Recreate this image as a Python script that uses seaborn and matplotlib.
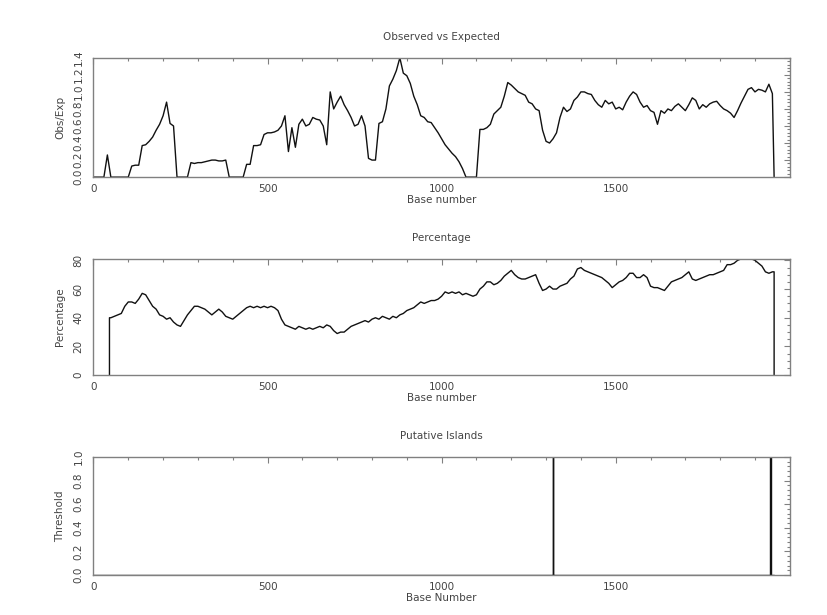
import numpy as np
import pandas as pd
import matplotlib
matplotlib.use("Agg")
import matplotlib.pyplot as plt
import seaborn as sns
from matplotlib.ticker import MultipleLocator, FixedLocator

sns.set_style("white")
plt.rcParams['font.family'] = ['DejaVu Sans']
plt.rcParams['font.size'] = 7.5

TEXT = '#444444'
FRAME = '#808080'

# ---- Observed vs Expected (window values every 10 bases, 0-1950) ----
oe_base = list(range(0, 1960, 10)) + [1955]
oe_value = [
    0, 0, 0, 0, 0.26, 0, 0, 0, 0, 0,
    0, 0.13, 0.14, 0.14, 0.37, 0.38, 0.42, 0.47, 0.55, 0.62,
    0.72, 0.88, 0.63, 0.6, 0, 0, 0, 0, 0.17, 0.16,
    0.17, 0.17, 0.18, 0.19, 0.2, 0.2, 0.19, 0.19, 0.2, 0,
    0, 0, 0, 0, 0.15, 0.15, 0.37, 0.37, 0.38, 0.5,
    0.52, 0.52, 0.53, 0.55, 0.6, 0.72, 0.3, 0.58, 0.35, 0.62,
    0.68, 0.6, 0.62, 0.7, 0.68, 0.67, 0.6, 0.38, 1.0, 0.8,
    0.88, 0.95, 0.85, 0.78, 0.7, 0.6, 0.62, 0.72, 0.6, 0.22,
    0.2, 0.2, 0.63, 0.65, 0.8, 1.07, 1.15, 1.25, 1.4, 1.22,
    1.19, 1.1, 0.95, 0.85, 0.72, 0.7, 0.65, 0.64, 0.58, 0.52,
    0.45, 0.38, 0.33, 0.28, 0.24, 0.18, 0.1, 0, 0, 0,
    0, 0.56, 0.56, 0.58, 0.62, 0.74, 0.78, 0.82, 0.95, 1.11,
    1.08, 1.04, 1.0, 0.98, 0.96, 0.88, 0.86, 0.8, 0.78, 0.55,
    0.42, 0.4, 0.45, 0.52, 0.7, 0.82, 0.77, 0.8, 0.9, 0.94,
    1.0, 1.0, 0.98, 0.97, 0.9, 0.85, 0.82, 0.9, 0.86, 0.88,
    0.8, 0.82, 0.79, 0.88, 0.95, 1.0, 0.97, 0.88, 0.82, 0.84,
    0.78, 0.76, 0.62, 0.78, 0.75, 0.8, 0.78, 0.83, 0.86, 0.82,
    0.78, 0.85, 0.93, 0.9, 0.8, 0.85, 0.82, 0.86, 0.88, 0.89,
    0.84, 0.8, 0.78, 0.75, 0.7, 0.78, 0.87, 0.95, 1.03, 1.05,
    1.0, 1.03, 1.02, 1.0, 1.09, 0.98,
    0,
]

# ---- Percentage (every 10 bases, 50-1950, plus start/end drops) ----
pct_base = [46, 46] + list(range(50, 1960, 10)) + [1955, 1955]
pct_value = [0, 40] + [
    40, 41, 42, 43, 48,
    51, 51, 50, 53, 57, 56, 52, 48, 46, 42,
    41, 39, 40, 37, 35, 34, 38, 42, 45, 48,
    48, 47, 46, 44, 42, 44, 46, 44, 41, 40,
    39, 41, 43, 45, 47, 48, 47, 48, 47, 48,
    47, 48, 47, 45, 39, 35, 34, 33, 32, 34,
    33, 32, 33, 32, 33, 34, 33, 35, 34, 31,
    29, 30, 30, 32, 34, 35, 36, 37, 38, 37,
    39, 40, 39, 41, 40, 39, 41, 40, 42, 43,
    45, 46, 47, 49, 51, 50, 51, 52, 52, 53,
    55, 58, 57, 58, 57, 58, 56, 57, 56, 55,
    56, 60, 62, 65, 65, 63, 64, 66, 69, 71,
    73, 70, 68, 67, 67, 68, 69, 70, 64, 59,
    60, 62, 60, 60, 62, 63, 64, 67, 69, 74,
    75, 73, 72, 71, 70, 69, 68, 66, 64, 61,
    63, 65, 66, 68, 71, 71, 68, 68, 70, 68,
    62, 61, 61, 60, 59, 62, 65, 66, 67, 68,
    70, 72, 67, 66, 67, 68, 69, 70, 70, 71,
    72, 73, 77, 77, 78, 80, 81, 81, 81, 81,
    80, 78, 76, 72, 71, 72,
] + [72, 0]

# ---- Putative islands ----
island_start = [1320, 1944]
island_end = [1320.1, 1946.5]

isl_x, isl_y = [0], [0]
for s, e in zip(island_start, island_end):
    isl_x += [s, s, e, e]
    isl_y += [0, 1, 1, 0]
isl_x.append(1955)
isl_y.append(0)

oe_df = pd.DataFrame({'base': oe_base, 'value': oe_value})
pct_df = pd.DataFrame({'base': pct_base, 'value': pct_value})
isl_df = pd.DataFrame({'base': isl_x, 'value': isl_y})

fig = plt.figure(figsize=(8.27, 6.15), dpi=100)
ax1 = fig.add_axes([0.113, 0.712, 0.842, 0.194])
ax2 = fig.add_axes([0.113, 0.390, 0.842, 0.189])
ax3 = fig.add_axes([0.113, 0.065, 0.842, 0.192])

sns.lineplot(data=oe_df, x='base', y='value', ax=ax1, estimator=None, sort=False,
             color='#111111', linewidth=1.0)
sns.lineplot(data=pct_df, x='base', y='value', ax=ax2, estimator=None, sort=False,
             color='#111111', linewidth=1.0)
sns.lineplot(data=isl_df, x='base', y='value', ax=ax3, estimator=None, sort=False,
             color='#111111', linewidth=1.0)

panels = [
    (ax1, 'Observed vs Expected', 'Base number', 'Obs/Exp', 1.4, 0.2, 0.04),
    (ax2, 'Percentage', 'Base number', 'Percentage', 81, 20, 5),
    (ax3, 'Putative Islands', 'Base Number', 'Threshold', 1.0, 0.2, 0.04),
]
for ax, title, xl, yl, ytop, ymaj, ymin in panels:
    ax.set_xlim(0, 2000)
    ax.set_ylim(0, ytop)
    ax.xaxis.set_major_locator(FixedLocator([0, 500, 1000, 1500]))
    ax.xaxis.set_minor_locator(MultipleLocator(100))
    ax.yaxis.set_major_locator(MultipleLocator(ymaj))
    ax.yaxis.set_minor_locator(MultipleLocator(ymin))
    ax.set_title(title, color=TEXT, fontsize=7.5, pad=13)
    ax.set_xlabel(xl, color=TEXT, fontsize=7.5, labelpad=1)
    ax.set_ylabel(yl, color=TEXT, fontsize=7.5, labelpad=6)
    ax.tick_params(which='both', direction='in', top=True, right=True,
                   colors=FRAME, labelcolor=TEXT, labelsize=7.5, width=0.8)
    ax.tick_params(which='major', length=4)
    ax.tick_params(which='minor', length=2)
    ax.tick_params(axis='x', which='major', pad=5)
    ax.tick_params(axis='y', which='major', pad=7)
    for lab in ax.get_yticklabels():
        lab.set_rotation(90)
        lab.set_va('center')
    for sp in ax.spines.values():
        sp.set_color(FRAME)
        sp.set_linewidth(1.0)
        sp.set_visible(True)

ax1.yaxis.set_major_formatter(plt.FuncFormatter(lambda v, p: f'{v:.1f}'))
ax3.yaxis.set_major_formatter(plt.FuncFormatter(lambda v, p: f'{v:.1f}'))
ax2.yaxis.set_major_formatter(plt.FuncFormatter(lambda v, p: f'{v:.0f}'))

plt.savefig('out.png', dpi=100)
